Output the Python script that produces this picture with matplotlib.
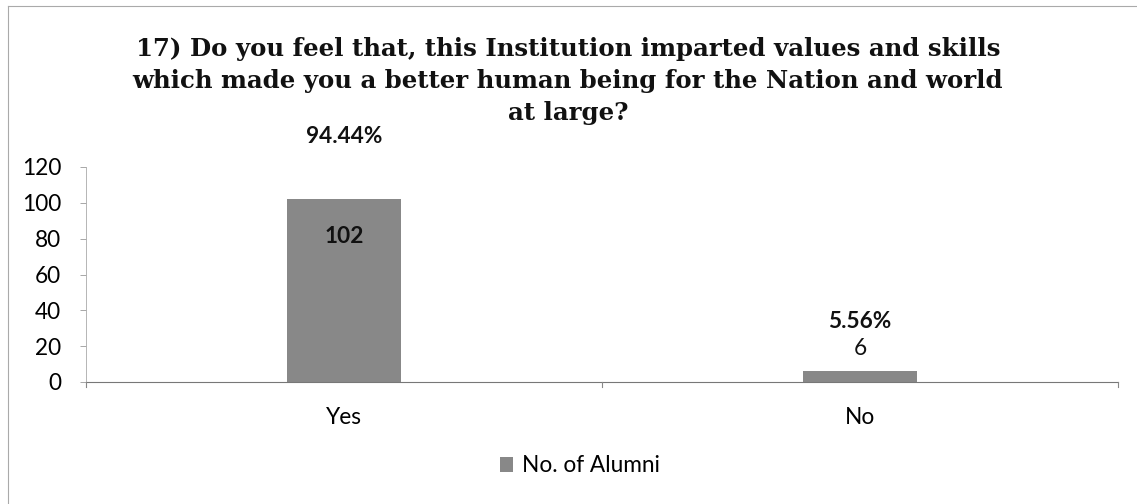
import matplotlib
matplotlib.use("Agg")
import matplotlib.pyplot as plt
from matplotlib.patches import Patch
from matplotlib.lines import Line2D

categories = ["Yes", "No"]
counts = [102, 6]
percent_labels = ["94.44%", "5.56%"]
yticks = [0, 20, 40, 60, 80, 100, 120]
title = ("17) Do you feel that, this Institution imparted values and skills\n"
         "which made you a better human being for the Nation and world\n"
         "at large?")
series_name = "No. of Alumni"

W, H = 1137, 504
fig = plt.figure(figsize=(W / 100, H / 100), dpi=100)
fig.patch.set_facecolor("white")

# axes placement in pixels
left, right, top, bottom = 86, 1118, 167, 382
ax = fig.add_axes([left / W, 1 - bottom / H, (right - left) / W, (bottom - top) / H])

bar_color = "#888888"
fs = 16.3
x = list(range(len(categories)))
bars = ax.bar(x, counts, width=0.22, color=bar_color, edgecolor="none", zorder=2)

ax.set_xlim(-0.5, len(categories) - 0.5)
ax.set_ylim(0, 120)
ax.set_yticks(yticks)
ax.set_yticklabels([str(t) for t in yticks], fontfamily="Lato", fontsize=fs)
ax.set_xticks(x)
ax.set_xticklabels(categories, fontfamily="Lato", fontsize=fs)
ax.tick_params(axis="x", length=0, pad=18)
ax.tick_params(axis="y", length=4, width=0.6, color="#999999", pad=14)

# category boundary ticks on x axis
for b in [-0.5, 0.5, 1.5]:
    ax.plot([b, b], [0, -3], color="#888888", lw=0.8, clip_on=False, zorder=3)

for s in ["top", "right"]:
    ax.spines[s].set_visible(False)
ax.spines["left"].set_color("#aaaaaa")
ax.spines["left"].set_linewidth(0.6)
ax.spines["bottom"].set_color("#777777")
ax.spines["bottom"].set_linewidth(0.8)

# data labels
ax.text(0, 81, str(counts[0]), ha="center", va="center", fontfamily="Lato",
        fontsize=fs, fontweight="bold", color="#111111", zorder=4)
ax.text(0, 137, percent_labels[0], ha="center", va="center", fontfamily="Lato",
        fontsize=fs, fontweight="bold", color="#111111", clip_on=False)
ax.text(1, 18.5, str(counts[1]), ha="center", va="center", fontfamily="Lato",
        fontsize=fs, color="#111111")
ax.text(1, 33.5, percent_labels[1], ha="center", va="center", fontfamily="Lato",
        fontsize=fs, fontweight="bold", color="#111111")

# title
fig.text(0.5 * (136 + 1000) / W, 1 - 81 / H, title, ha="center", va="center",
         fontfamily="DejaVu Serif", fontweight="bold", fontsize=17.6,
         linespacing=1.42, color="#111111")

# legend
handles = [Patch(facecolor=bar_color, edgecolor="none")]
fig.legend(handles, [series_name], loc="center", bbox_to_anchor=(580 / W, 1 - 466 / H),
           frameon=False, prop={"family": "Lato", "size": fs},
           handlelength=0.6, handleheight=0.6, handletextpad=0.4)

# outer frame (left & top visible)
fig.add_artist(Line2D([8 / W, 8 / W], [0, 1 - 6 / H], transform=fig.transFigure,
                      color="#aaaaaa", lw=0.8))
fig.add_artist(Line2D([8 / W, 1], [1 - 6 / H, 1 - 6 / H], transform=fig.transFigure,
                      color="#aaaaaa", lw=0.8))

fig.savefig("out.png", dpi=100, facecolor="white")
